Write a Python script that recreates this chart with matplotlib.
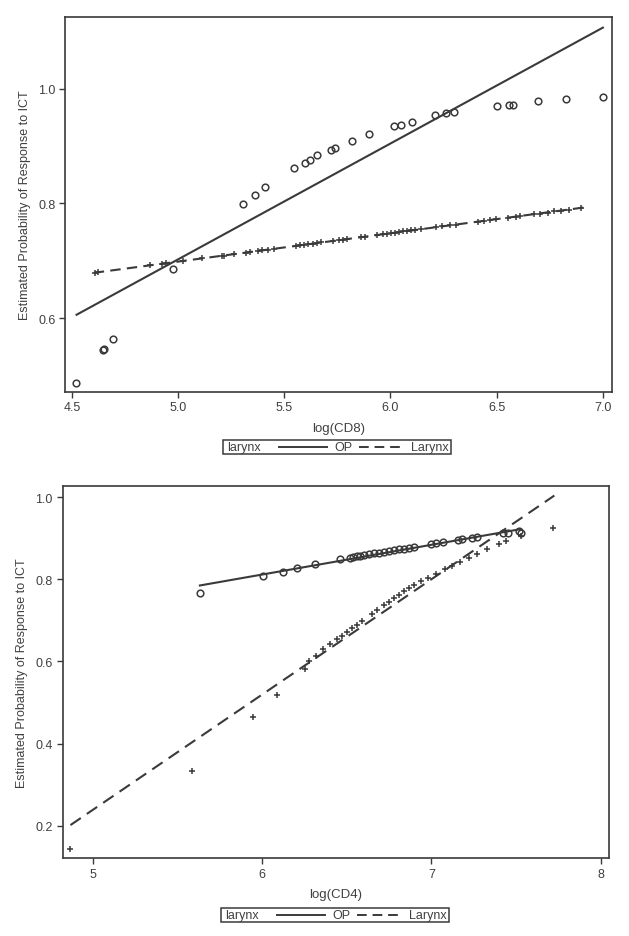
import matplotlib
matplotlib.use("Agg")
import matplotlib.pyplot as plt
from matplotlib.lines import Line2D
from matplotlib.patches import Rectangle

plt.rcParams['font.family'] = ['Liberation Sans', 'DejaVu Sans']

# ---------------- Top panel: log(CD8) ----------------
cd8_op_x = [4.518, 4.645, 4.650, 4.695, 4.974, 5.305, 5.360, 5.411, 5.546, 5.599,
            5.620, 5.656, 5.718, 5.740, 5.820, 5.898, 6.016, 6.050, 6.099, 6.208,
            6.260, 6.300, 6.502, 6.559, 6.575, 6.696, 6.827, 7.000]
cd8_op_y = [0.488, 0.545, 0.547, 0.564, 0.685, 0.799, 0.814, 0.828, 0.861, 0.871,
            0.875, 0.884, 0.893, 0.896, 0.909, 0.921, 0.934, 0.937, 0.942, 0.953,
            0.957, 0.959, 0.970, 0.972, 0.972, 0.978, 0.981, 0.986]
cd8_op_fit_x = [4.522, 7.000]
cd8_op_fit_y = [0.606, 1.106]

cd8_lar_x = [4.609, 4.625, 4.868, 4.923, 4.945, 5.025, 5.111, 5.206, 5.216, 5.263,
             5.320, 5.339, 5.377, 5.396, 5.424, 5.453, 5.557, 5.576, 5.595, 5.614,
             5.633, 5.652, 5.671, 5.728, 5.757, 5.776, 5.795, 5.861, 5.880, 5.937,
             5.965, 5.984, 6.003, 6.022, 6.041, 6.060, 6.079, 6.098, 6.117, 6.146,
             6.212, 6.241, 6.279, 6.307, 6.412, 6.440, 6.468, 6.497, 6.554, 6.592,
             6.611, 6.677, 6.706, 6.744, 6.772, 6.801, 6.839, 6.896]
cd8_lar_y = [0.679, 0.680, 0.692, 0.695, 0.696, 0.700, 0.704, 0.709, 0.709, 0.712,
             0.714, 0.715, 0.717, 0.718, 0.719, 0.721, 0.726, 0.727, 0.728, 0.729,
             0.730, 0.731, 0.732, 0.734, 0.736, 0.737, 0.738, 0.741, 0.742, 0.745,
             0.746, 0.747, 0.748, 0.749, 0.750, 0.751, 0.752, 0.753, 0.754, 0.755,
             0.758, 0.760, 0.762, 0.763, 0.768, 0.769, 0.771, 0.772, 0.775, 0.777,
             0.778, 0.781, 0.782, 0.784, 0.786, 0.787, 0.789, 0.792]
cd8_lar_fit_x = [4.603, 6.915]
cd8_lar_fit_y = [0.679, 0.793]

cd8_xticks = [4.5, 5.0, 5.5, 6.0, 6.5, 7.0]
cd8_xticklabels = ['4.5', '5.0', '5.5', '6.0', '6.5', '7.0']
cd8_yticks = [0.6, 0.8, 1.0]
cd8_yticklabels = ['0.6', '0.8', '1.0']

# ---------------- Bottom panel: log(CD4) ----------------
cd4_op_x = [5.633, 6.007, 6.121, 6.204, 6.312, 6.46, 6.52, 6.54, 6.56, 6.58, 6.60,
            6.63, 6.66, 6.69, 6.72, 6.75, 6.78, 6.81, 6.84, 6.87, 6.90, 7.00, 7.03,
            7.07, 7.16, 7.18, 7.24, 7.27, 7.42, 7.45, 7.52, 7.53]
cd4_op_y = [0.767, 0.809, 0.819, 0.827, 0.837, 0.849, 0.853, 0.855, 0.856, 0.858, 0.859,
            0.861, 0.863, 0.865, 0.867, 0.869, 0.871, 0.873, 0.875, 0.877, 0.879, 0.886, 0.888,
            0.890, 0.896, 0.897, 0.901, 0.903, 0.912, 0.914, 0.918, 0.912]
cd4_op_fit_x = [5.633, 7.524]
cd4_op_fit_y = [0.785, 0.922]

cd4_lar_x = [4.869, 5.586, 5.948, 6.090, 6.255, 6.28, 6.32, 6.36, 6.40, 6.44, 6.47,
             6.50, 6.53, 6.56, 6.59, 6.65, 6.68, 6.72, 6.75, 6.78, 6.81, 6.84, 6.87,
             6.90, 6.94, 6.98, 7.03, 7.08, 7.12, 7.17, 7.22, 7.27, 7.33, 7.40, 7.44,
             7.53, 7.72]
cd4_lar_y = [0.143, 0.332, 0.464, 0.519, 0.582, 0.600, 0.614, 0.630, 0.642, 0.654, 0.663,
             0.672, 0.681, 0.689, 0.698, 0.716, 0.726, 0.737, 0.745, 0.754, 0.763, 0.771, 0.778,
             0.786, 0.795, 0.804, 0.814, 0.824, 0.832, 0.842, 0.852, 0.862, 0.873, 0.886, 0.893,
             0.905, 0.925]
cd4_lar_fit_x = [4.869, 7.726]
cd4_lar_fit_y = [0.2015, 1.004]

cd4_xticks = [5, 6, 7, 8]
cd4_xticklabels = ['5', '6', '7', '8']
cd4_yticks = [0.2, 0.4, 0.6, 0.8, 1.0]
cd4_yticklabels = ['0.2', '0.4', '0.6', '0.8', '1.0']

legend_title = 'larynx'
legend_labels = ['OP', 'Larynx']
ylabel = 'Estimated Probability of Response to ICT'

INK = '#3a3a3a'
TXT = '#404040'
W, H = 629, 937

fig = plt.figure(figsize=(W / 100, H / 100), dpi=100)
fig.patch.set_facecolor('white')


def px_axes(l, t, r, b):
    return fig.add_axes([l / W, 1 - b / H, (r - l) / W, (b - t) / H])


def style(ax, xt, xtl, yt, ytl, xlim, ylim, xlabel):
    ax.set_xlim(*xlim)
    ax.set_ylim(*ylim)
    ax.set_xticks(xt)
    ax.set_xticklabels(xtl)
    ax.set_yticks(yt)
    ax.set_yticklabels(ytl)
    for s in ax.spines.values():
        s.set_color(INK)
        s.set_linewidth(1.2)
    ax.tick_params(direction='out', length=4, width=1.0, colors=INK,
                   labelsize=9, labelcolor=TXT, pad=3)
    ax.set_xlabel(xlabel, fontsize=9.5, color=TXT, labelpad=6)
    ax.set_ylabel(ylabel, fontsize=9, color=TXT, labelpad=5)


def draw_legend(left, top, bottom):
    h = bottom - top
    yc = 1 - (top + h / 2) / H
    fig.patches.append(Rectangle((left / W, 1 - bottom / H), 228 / W, h / H,
                                 transform=fig.transFigure, fill=False,
                                 edgecolor=INK, linewidth=1.1))
    fig.text((left + 4) / W, yc, legend_title, fontsize=9, color=TXT,
             va='center', ha='left')
    fig.lines.append(Line2D([(left + 56) / W, (left + 104) / W], [yc, yc],
                            transform=fig.transFigure, color=INK, lw=1.4))
    fig.text((left + 111) / W, yc, legend_labels[0], fontsize=9, color=TXT,
             va='center', ha='left')
    fig.lines.append(Line2D([(left + 136) / W, (left + 181) / W], [yc, yc],
                            transform=fig.transFigure, color=INK, lw=1.4,
                            dashes=(5, 3)))
    fig.text((left + 188) / W, yc, legend_labels[1], fontsize=9, color=TXT,
             va='center', ha='left')


# Top panel
ax1 = px_axes(65.3, 18.3, 612, 392.7)
ax1.plot(cd8_op_fit_x, cd8_op_fit_y, color=INK, lw=1.5)
ax1.plot(cd8_lar_fit_x, cd8_lar_fit_y, color=INK, lw=1.5, dashes=(5, 3))
ax1.plot(cd8_op_x, cd8_op_y, linestyle='none', marker='o', markersize=4.8,
         markerfacecolor='none', markeredgecolor=INK, markeredgewidth=1.1)
ax1.plot(cd8_lar_x, cd8_lar_y, linestyle='none', marker='+', markersize=5,
         markeredgecolor=INK, markeredgewidth=1.1)
style(ax1, cd8_xticks, cd8_xticklabels, cd8_yticks, cd8_yticklabels,
      (4.469, 7.043), (0.472, 1.124), 'log(CD8)')
draw_legend(223, 440.7, 455)

# Bottom panel
ax2 = px_axes(62.5, 486.7, 608.9, 859.3)
ax2.plot(cd4_op_fit_x, cd4_op_fit_y, color=INK, lw=1.5)
ax2.plot(cd4_lar_fit_x, cd4_lar_fit_y, color=INK, lw=1.5, dashes=(6, 3.5))
ax2.plot(cd4_op_x, cd4_op_y, linestyle='none', marker='o', markersize=4.8,
         markerfacecolor='none', markeredgecolor=INK, markeredgewidth=1.1)
ax2.plot(cd4_lar_x, cd4_lar_y, linestyle='none', marker='+', markersize=5,
         markeredgecolor=INK, markeredgewidth=1.1)
style(ax2, cd4_xticks, cd4_xticklabels, cd4_yticks, cd4_yticklabels,
      (4.822, 8.048), (0.1206, 1.028), 'log(CD4)')
draw_legend(221, 909, 922.7)

fig.savefig('out.png', dpi=100, facecolor='white')
